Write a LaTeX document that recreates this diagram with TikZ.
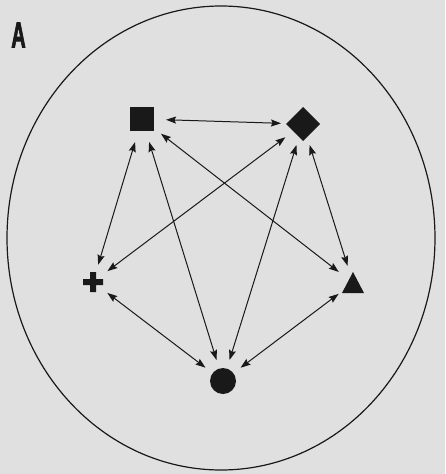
\documentclass[tikz,border=0pt]{standalone}
\usepackage{fontspec}
\newfontfamily\labelfont[FakeBold=3]{Liberation Sans}
\usetikzlibrary{arrows.meta}
\definecolor{paper}{gray}{0.88}
\definecolor{ink}{gray}{0.1}
\tikzset{
  halo/.style={circle,minimum size=#1,inner sep=0pt,outer sep=0pt},
  link/.style={{Stealth[length=10pt,width=7pt,inset=1.5pt]}-{Stealth[length=10pt,width=7pt,inset=1.5pt]},line width=1pt,ink}
}
\begin{document}
\begin{tikzpicture}[x=1pt,y=-1pt]
\useasboundingbox (0,0) rectangle (445,474);
\fill[paper] (0,0) rectangle (445,474);
\draw[ink,line width=1.2pt] (221,238) ellipse [x radius=214,y radius=232];
\node[ink,font=\labelfont\bfseries\fontsize{36}{36}\selectfont,xscale=0.55,inner sep=0pt] (lbl) at (18.5,35) {A};

\node[halo=48] (sq) at (142,119) {};
\node[halo=44] (dm) at (303,124) {};
\node[halo=36] (pl) at (93,282) {};
\node[halo=36] (tr) at (353,283) {};
\node[halo=44] (ci) at (223,381) {};

\fill[ink] (sq) +(-12,-12) rectangle +(12,12);
\fill[ink] (dm) +(-17,0) -- +(0,-17) -- +(17,0) -- +(0,17) -- cycle;
\fill[ink] (pl) +(-10,-3) rectangle +(10,3) +(-3,-10) rectangle +(3,10);
\fill[ink] (tr) +(0,-11) -- +(11,10) -- +(-11,10) -- cycle;
\fill[ink] (ci) circle [radius=13];

\foreach \a/\b in {sq/dm,sq/pl,sq/ci,sq/tr,dm/pl,dm/ci,dm/tr,pl/ci,tr/ci}
  \draw[link] (\a) -- (\b);
\end{tikzpicture}
\end{document}
